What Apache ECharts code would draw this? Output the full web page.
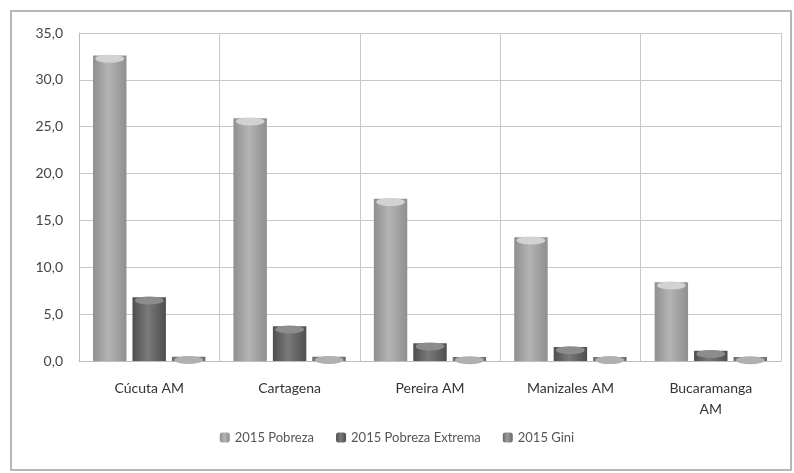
<!DOCTYPE html>
<html>
<head>
<meta charset="utf-8">
<script src="https://cdn.jsdelivr.net/npm/echarts@6/dist/echarts.min.js"></script>
<style>
  html, body { margin: 0; padding: 0; background: #fff; }
  #chart { width: 794px; height: 473px; }
</style>
</head>
<body>
<div id="chart"></div>
<script>
const ciudades = ['Cúcuta AM', 'Cartagena', 'Pereira AM', 'Manizales AM', 'Bucaramanga\nAM'];
const pobreza = [32.6, 25.9, 17.3, 13.2, 8.4];
const pobrezaExtrema = [6.8, 3.7, 1.9, 1.5, 1.1];
const gini = [0.45, 0.45, 0.43, 0.44, 0.42];
const nombres = ['2015 Pobreza', '2015 Pobreza Extrema', '2015 Gini'];

// gradiente horizontal para simular los cilindros
function cilindro(borde, centro) {
  return new echarts.graphic.LinearGradient(0, 0, 1, 0, [
    { offset: 0, color: borde },
    { offset: 0.45, color: centro },
    { offset: 1, color: borde }
  ]);
}
const colores = [
  cilindro('#8f8f8f', '#b4b4b4'),
  cilindro('#4e4e4e', '#7a7a7a'),
  cilindro('#6a6a6a', '#9a9a9a')
];
const tapas = ['#d2d2d2', '#8c8c8c', '#b0b0b0'];
const datos = [pobreza, pobrezaExtrema, gini];

let series = [];
datos.forEach((d, i) => {
  series.push({
    name: nombres[i],
    type: 'bar',
    data: d,
    barGap: '18%',
    barCategoryGap: '20%',
    itemStyle: { color: colores[i] }
  });
});
datos.forEach((d, i) => {
  series.push({
    name: nombres[i],
    type: 'pictorialBar',
    data: d,
    symbol: 'circle',
    symbolSize: ['86%', 8],
    symbolPosition: 'end',
    symbolOffset: [0, '-10%'],
    barGap: '18%',
    barCategoryGap: '20%',
    itemStyle: { color: tapas[i] },
    z: 3,
    silent: true
  });
});

const myChart = echarts.init(document.getElementById('chart'));
myChart.setOption({
  animation: false,
  textStyle: { fontFamily: 'Lato' },
  grid: { left: 79, right: 13, top: 33, bottom: 112 },
  graphic: [{
    type: 'rect',
    shape: { x: 11, y: 11, width: 780, height: 459 },
    style: { fill: 'none', stroke: '#a0a0a0', lineWidth: 1.5 },
    silent: true
  }],
  legend: {
    data: nombres,
    bottom: 24,
    left: 'center',
    itemWidth: 10,
    itemHeight: 10,
    itemGap: 22,
    textStyle: { fontSize: 13, color: '#555' }
  },
  xAxis: {
    type: 'category',
    data: ciudades,
    axisTick: { show: false },
    axisLine: { lineStyle: { color: '#bcbcbc' } },
    splitLine: { show: true, lineStyle: { color: '#c8c8c8' } },
    axisLabel: { fontSize: 14, color: '#333', margin: 17, lineHeight: 21, interval: 0 }
  },
  yAxis: {
    type: 'value',
    min: 0,
    max: 35,
    interval: 5,
    axisLine: { show: true, lineStyle: { color: '#bcbcbc' } },
    axisTick: { show: false },
    splitLine: { lineStyle: { color: '#c8c8c8' } },
    axisLabel: {
      fontSize: 14,
      color: '#444',
      margin: 16,
      formatter: v => v.toFixed(1).replace('.', ',')
    }
  },
  series: series
});
</script>
</body>
</html>
